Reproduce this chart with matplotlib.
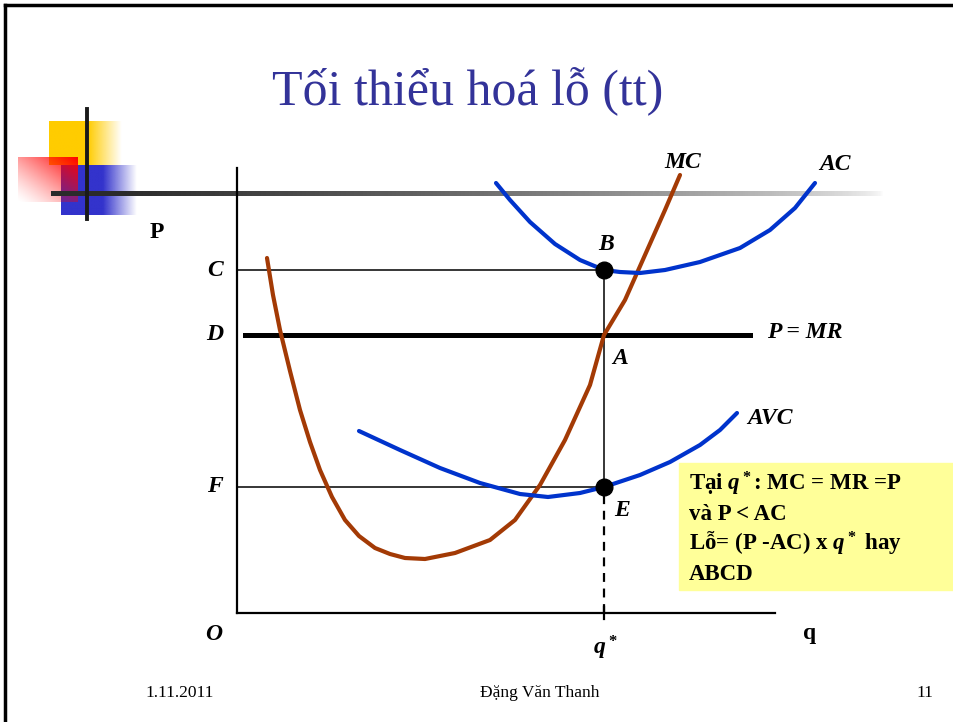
import numpy as np
import matplotlib
matplotlib.use("Agg")
import matplotlib.pyplot as plt

plt.rcParams['font.family'] = ['Liberation Serif', 'DejaVu Serif']
plt.rcParams['mathtext.fontset'] = 'custom'
plt.rcParams['mathtext.it'] = 'Liberation Serif:bold:italic'
plt.rcParams['mathtext.rm'] = 'Liberation Serif:bold'
plt.rcParams['mathtext.bf'] = 'Liberation Serif:bold'

# curves (q, P)
mc_q = [3.0, 3.6, 4.3, 5.3, 6.3, 7.3, 8.3, 9.5, 10.8, 12.2, 13.8, 15.3, 16.8, 18.8, 21.8, 25.3, 27.8, 30.3, 32.8, 35.3, 36.7, 38.8, 40.8, 42.8, 44.3]
mc_p = [35.5, 31.8, 28.3, 24.2, 20.3, 17.1, 14.3, 11.6, 9.3, 7.7, 6.5, 5.9, 5.5, 5.4, 6.0, 7.3, 9.3, 12.8, 17.3, 22.8, 27.8, 31.3, 35.8, 40.3, 43.8]

ac_q = [25.9, 27.3, 29.3, 31.8, 34.3, 36.7, 38.3, 40.3, 42.8, 46.3, 50.3, 53.3, 55.8, 57.8]
ac_p = [43.0, 41.3, 39.1, 36.9, 35.3, 34.3, 34.1, 34.0, 34.3, 35.1, 36.5, 38.3, 40.5, 43.0]

avc_q = [12.2, 16.3, 20.3, 24.3, 28.3, 31.1, 34.3, 36.7, 40.3, 43.3, 46.3, 48.3, 50.0]
avc_p = [18.2, 16.3, 14.5, 13.0, 11.9, 11.6, 12.0, 12.6, 13.8, 15.1, 16.8, 18.3, 20.0]

q_star = 36.7
price_c = 34.3
price_d = 27.8
price_f = 12.6
mr_start, mr_end = 0.8, 51.3
q_axis_end = 53.8
p_axis_end = 44.5

title = "Tối thiểu hoá lỗ (tt)"
box_lines = [r"Tại $q^*$: MC = MR =P", "và P < AC", r"Lỗ= (P -AC) x $q^*$ hay", "ABCD"]
footer_left, footer_mid, footer_right = "1.11.2011", "Đặng Văn Thanh", "11"

brown = "#a33a05"
blue = "#0033cc"

fig = plt.figure(figsize=(9.54, 7.22), dpi=100)

# slide decorations in pixel coordinates
deco = fig.add_axes([0, 0, 1, 1], zorder=0)
deco.set_xlim(0, 954)
deco.set_ylim(722, 0)
deco.axis('off')

deco.plot([5, 5], [5, 722], color='black', lw=2.5)
deco.plot([5, 954], [5, 5], color='black', lw=2.5)

def hfade(rgb, x0, xs, x1, y0, y1, z):
    n = 200
    xx = np.linspace(x0, x1, n)
    a = np.clip((x1 - xx) / (x1 - xs), 0, 1)
    img = np.ones((1, n, 4))
    img[0, :, :3] = rgb
    img[0, :, 3] = a
    deco.imshow(img, extent=[x0, x1, y1, y0], aspect='auto', zorder=z, interpolation='bilinear')

hfade((1.0, 0.8, 0.0), 49, 88, 122, 121, 165, 1)
hfade((0.2, 0.2, 0.8), 61, 103, 137, 165, 215, 2)
# red square, diagonal fade
n = 100
gx, gy = np.meshgrid(np.linspace(0, 1, n), np.linspace(0, 1, n))
red = np.ones((n, n, 4))
red[:, :, 1] = 0
red[:, :, 2] = 0
red[:, :, 3] = np.clip((gx + (1 - gy)) / 2, 0, 1) ** 1.3
deco.imshow(red, extent=[18, 78, 202, 157], aspect='auto', zorder=3, interpolation='bilinear')

gl = np.ones((1, 300, 4))
gl[0, :, :3] = 0.17
gl[0, :, 3] = np.clip(np.linspace(1.0, 0.0, 300) * 1.1, 0, 1) ** 0.6
deco.imshow(gl, extent=[51, 885, 196.5, 191.5], aspect='auto', zorder=4, interpolation='bilinear')
deco.plot([87, 87], [109, 219], color='#1a1a1a', lw=2.8, zorder=5)

deco.text(468, 92, title, color='#333399', fontsize=36, ha='center', va='center')

deco.add_patch(plt.Rectangle((679, 463), 280, 127, color='#ffff99', zorder=1))
for i, line in enumerate(box_lines):
    deco.text(689, 484 + i * 30, line, fontsize=16.5, fontweight='bold', ha='left', va='center', zorder=6)

deco.text(180, 693, footer_left, fontsize=12.5, ha='center', va='center')
deco.text(540, 693, footer_mid, fontsize=12.5, ha='center', va='center')
deco.text(925, 693, footer_right, fontsize=12.5, ha='center', va='center')

# economic chart
ax = fig.add_axes([0, 0, 1, 1], zorder=1)
ax.set_facecolor('none')
ax.set_xlim(-23.7, 71.7)
ax.set_ylim(-10.9, 61.3)
ax.axis('off')

ax.plot([0, 0], [0, p_axis_end], color='black', lw=1.6)
ax.plot([0, q_axis_end], [0, 0], color='black', lw=1.6)
ax.plot([q_star, q_star], [-0.6, 0.6], color='black', lw=1.6)

ax.plot([0, q_star], [price_c, price_c], color='black', lw=1.1)
ax.plot([0, q_star], [price_f, price_f], color='black', lw=1.1)
ax.plot([q_star, q_star], [price_f, price_c], color='black', lw=1.1)
ax.plot([q_star, q_star], [0, price_f], color='black', lw=1.6, ls=(0, (4, 3)))
ax.plot([mr_start, mr_end], [price_d, price_d], color='black', lw=3.6)

ax.plot(mc_q, mc_p, color=brown, lw=3, solid_capstyle='round', solid_joinstyle='round')
ax.plot(ac_q, ac_p, color=blue, lw=3, solid_capstyle='round', solid_joinstyle='round')
ax.plot(avc_q, avc_p, color=blue, lw=3, solid_capstyle='round', solid_joinstyle='round')

ax.plot([q_star, q_star], [price_c, price_f], 'o', color='black', ms=12)

bi = dict(fontsize=17, fontweight='bold', style='italic', ha='center', va='center')
ax.text(-8.0, 38.1, "P", fontsize=17, fontweight='bold', ha='center', va='center')
ax.text(-2.2, price_c, "C", **bi)
ax.text(-2.2, price_d, "D", **bi)
ax.text(-2.2, price_f, "F", **bi)
ax.text(-2.3, -2.1, "O", **bi)
ax.text(57.3, -2.0, "q", fontsize=17, fontweight='bold', ha='center', va='center')
ax.text(36.8, -3.5, r"$q^*$", fontsize=17, ha='center', va='center')
ax.text(36.9, 36.9, "B", **bi)
ax.text(38.3, 25.5, "A", **bi)
ax.text(38.5, 10.3, "E", **bi)
ax.text(44.6, 45.1, "MC", **bi)
ax.text(59.8, 44.8, "AC", **bi)
ax.text(56.8, 28.0, "P = MR", **bi)
ax.text(53.3, 19.5, "AVC", **bi)

fig.savefig("out.png", dpi=100)
